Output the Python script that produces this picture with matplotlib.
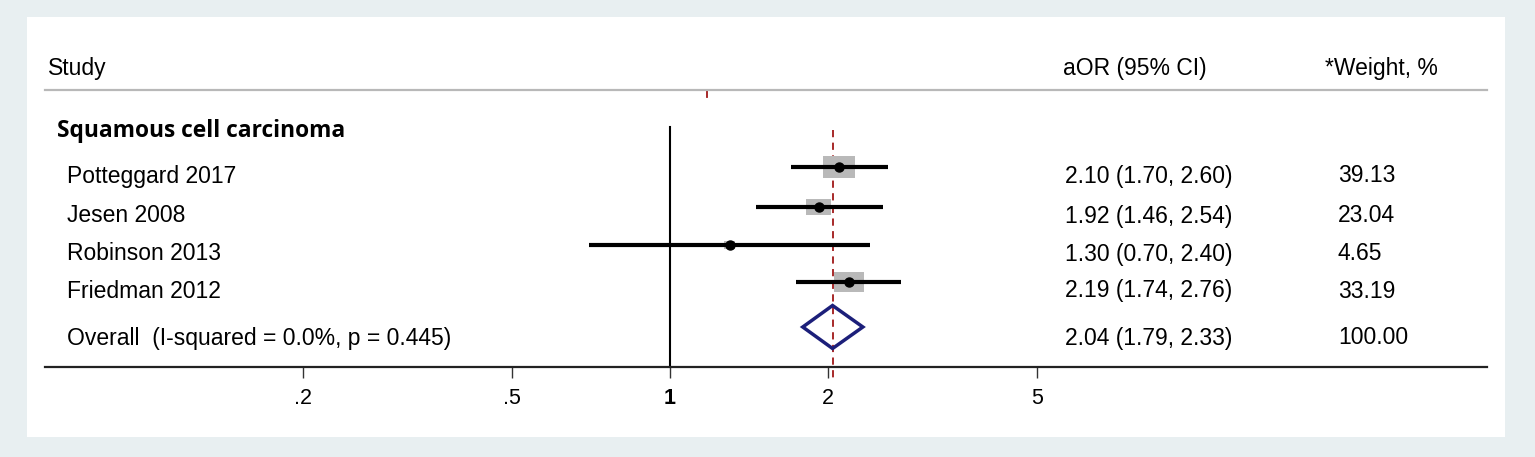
import matplotlib
matplotlib.use('Agg')
import matplotlib.pyplot as plt
import matplotlib.transforms as mtransforms
from matplotlib.patches import Rectangle, Polygon

plt.rcParams['font.family'] = ['Liberation Sans', 'DejaVu Sans']

studies = ['Potteggard 2017', 'Jesen 2008', 'Robinson 2013', 'Friedman 2012']
aor = [2.10, 1.92, 1.30, 2.19]
ci_low = [1.70, 1.46, 0.70, 1.74]
ci_high = [2.60, 2.54, 2.40, 2.76]
weights = [39.13, 23.04, 4.65, 33.19]

overall_label = 'Overall  (I-squared = 0.0%, p = 0.445)'
overall = 2.04
overall_low = 1.79
overall_high = 2.33

group = 'Squamous cell carcinoma'
ticks = [0.2, 0.5, 1, 2, 5]
tick_labels = ['.2', '.5', '1', '2', '5']

W, H = 1535, 457
fig = plt.figure(figsize=(W / 100, H / 100), dpi=100)
fig.patch.set_facecolor('#e8eff1')
fig.add_artist(Rectangle((27 / W, 1 - 437 / H), (1505 - 27) / W, (437 - 17) / H,
                         transform=fig.transFigure, facecolor='white', edgecolor='none', zorder=0))

# plot area: x log scale, y in pixel rows from top
ax = fig.add_axes([45 / W, 1 - 367 / H, (1487 - 45) / W, (367 - 90) / H])
ax.patch.set_alpha(0)
ax.set_xscale('log')
px_per_decade = 525.0
ax.set_xlim(10 ** ((45 - 670) / px_per_decade), 10 ** ((1487 - 670) / px_per_decade))
ax.set_ylim(367, 90)

for side in ['left', 'right']:
    ax.spines[side].set_visible(False)
ax.spines['bottom'].set_color('#222222')
ax.spines['bottom'].set_linewidth(1.6)
ax.spines['top'].set_color('#b8b8b8')
ax.spines['top'].set_linewidth(1.6)
ax.set_yticks([])
ax.set_xticks(ticks)
ax.set_xticklabels(tick_labels)
ax.minorticks_off()
ax.tick_params(axis='x', length=8, width=1, color='#333333', pad=7, labelsize=15.5)
ax.get_xticklabels()[2].set_fontweight('bold')

row_y = [167, 207, 245, 282]
overall_y = 327
text_dy = 9

# reference lines
ax.plot([1, 1], [127, 367], color='black', lw=1.5, clip_on=False)
ax.plot([overall, overall], [130, 378], color='#a01818', lw=1.3, ls=(0, (4, 3)), clip_on=False, zorder=1)
ax.plot([1.176, 1.176], [90, 97], color='#a01818', lw=1.3, clip_on=False)

# study estimates, box area ~ weight
for y, est, lo, hi, w in zip(row_y, aor, ci_low, ci_high, weights):
    half_w = 2.6 * w ** 0.5 / px_per_decade
    half_h = 1.72 * w ** 0.5
    ax.add_patch(Rectangle((est / 10 ** half_w, y - half_h), est * 10 ** half_w - est / 10 ** half_w,
                           2 * half_h, facecolor='#b9b9b9', edgecolor='none', zorder=2))
    ax.plot([lo, hi], [y, y], color='black', lw=3, zorder=3, solid_capstyle='butt')
    ax.plot(est, y, 'o', color='black', ms=6.5, zorder=4)

# overall diamond
ax.add_patch(Polygon([(overall_low, overall_y), (overall, overall_y - 21.5),
                      (overall_high, overall_y), (overall, overall_y + 21.5)],
                     closed=True, facecolor='none', edgecolor='#1c1f7a', lw=2.5, zorder=3))

# text columns
tr = mtransforms.blended_transform_factory(fig.transFigure, ax.transData)
fs = 16.5
ax.text(48 / W, 68, 'Study', transform=tr, fontsize=fs, va='center')
ax.text(1063 / W, 68, 'aOR (95% CI)', transform=tr, fontsize=fs, va='center')
ax.text(1325 / W, 68, '*Weight, %', transform=tr, fontsize=fs, va='center')
ax.text(57 / W, 131, group, transform=tr, fontsize=16.4, va='center', fontweight='bold',
        family=['Open Sans', 'DejaVu Sans'])

for y, name, est, lo, hi, w in zip(row_y, studies, aor, ci_low, ci_high, weights):
    ax.text(67 / W, y + text_dy, name, transform=tr, fontsize=fs, va='center')
    ax.text(1065 / W, y + text_dy, f'{est:.2f} ({lo:.2f}, {hi:.2f})', transform=tr, fontsize=fs, va='center')
    ax.text(1338 / W, y + text_dy, f'{w:.2f}', transform=tr, fontsize=fs, va='center')

ax.text(67 / W, overall_y + 11, overall_label, transform=tr, fontsize=fs, va='center')
ax.text(1065 / W, overall_y + 11, f'{overall:.2f} ({overall_low:.2f}, {overall_high:.2f})',
        transform=tr, fontsize=fs, va='center')
ax.text(1338 / W, overall_y + 11, '100.00', transform=tr, fontsize=fs, va='center')

fig.savefig('out.png', dpi=100, facecolor=fig.get_facecolor())
